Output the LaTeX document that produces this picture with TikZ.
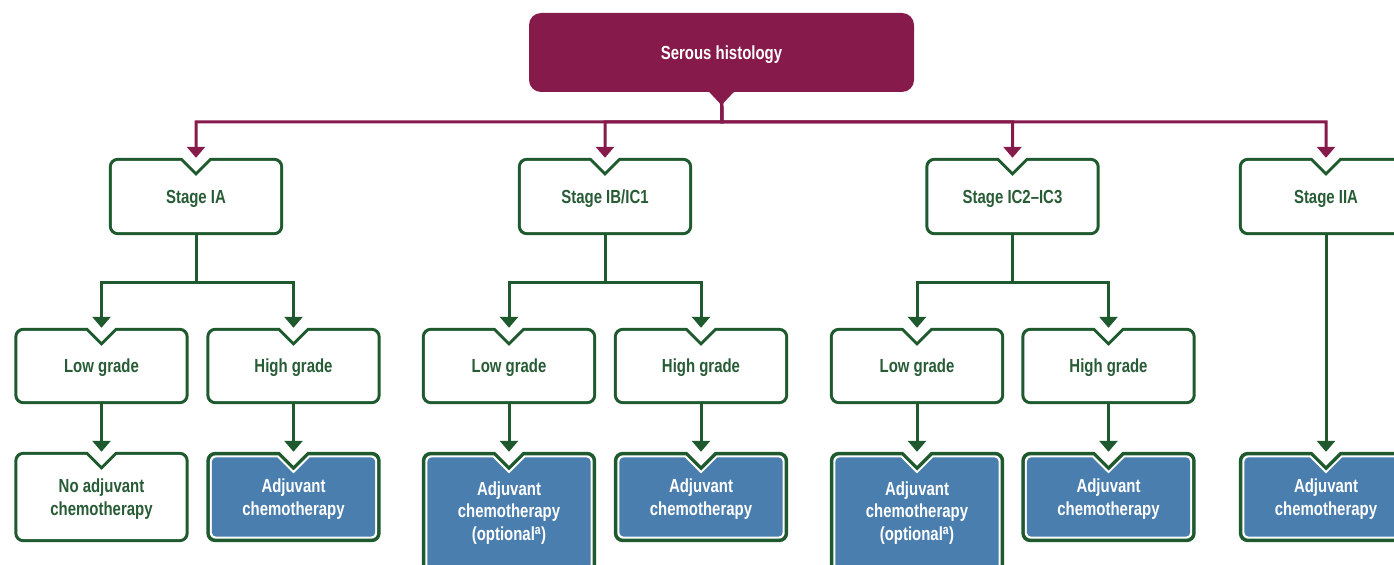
\documentclass[tikz,border=0pt]{standalone}
\usepackage{fontspec}
\setmainfont{Liberation Sans}[FakeStretch=0.79]
\usetikzlibrary{calc,arrows.meta,backgrounds}
\definecolor{grn}{HTML}{1E5A2E}
\definecolor{mar}{HTML}{861A4A}
\definecolor{blu}{HTML}{4A7EAE}
\definecolor{tgrn}{HTML}{285C36}
\newcommand\nshape[4]{%
  \fill[#4] ($(#1.west)+(#2,0)$) [rounded corners=#3] -- ($(#1.north west)+(#2,#2)$) [sharp corners] -- ($(#1.north)+({-14-0.41*#2},#2)$) -- ($(#1.north)+(0,{14+1.41*#2})$) -- ($(#1.north)+({14+0.41*#2},#2)$) [rounded corners=#3] -- ($(#1.north east)+(-#2,#2)$) -- ($(#1.south east)+(-#2,-#2)$) -- ($(#1.south west)+(#2,-#2)$) -- cycle;}
\newcommand\wbox[1]{\nshape{#1}{0}{9bp}{grn}\nshape{#1}{3}{6.5bp}{white}}
\newcommand\bbox[1]{\nshape{#1}{0}{9bp}{grn}\nshape{#1}{3.5}{6bp}{white}\nshape{#1}{5.5}{4.5bp}{blu}}
\tikzset{
  lbl/.style={rectangle, inner sep=0pt, minimum width=174bp, align=center, text depth=-3bp, font=\fontsize{19}{22.5}\selectfont\bfseries},
  wb/.style={lbl, text=tgrn},
  bb/.style={lbl, text=white},
  two/.style={text depth=-7bp},
  three/.style={text depth=4bp},
  garrow/.style={draw=grn, line width=3bp, -{Triangle[width=18bp,length=11bp]}},
  marrow/.style={draw=mar, line width=3bp, -{Triangle[width=18bp,length=11bp]}},
}
\begin{document}
\begin{tikzpicture}[x=1bp,y=-1bp]
\useasboundingbox (0,0) rectangle (1394,565);
\node[lbl, fill=mar, text=white, rounded corners=12bp, minimum width=385bp, minimum height=79bp] (top) at (721.5,52.5) {Serous histology};
\fill[mar] ($(top.south)+(-13,-1)$) -- ($(top.south)+(13,-1)$) -- ($(top.south)+(0,13)$) -- cycle;
% stages
\node[wb, minimum height=77bp] (s1) at (196,196.5) {Stage IA};
\node[wb, minimum height=77bp] (s2) at (605,196.5) {Stage IB/IC1};
\node[wb, minimum height=77bp] (s3) at (1012.5,196.5) {Stage IC2–IC3};
\node[wb, minimum height=77bp] (s4) at (1326,196.5) {Stage IIA};
% grades
\node[wb, minimum height=76bp] (g1a) at (101.5,366) {Low grade};
\node[wb, minimum height=76bp] (g1b) at (293.5,366) {High grade};
\node[wb, minimum height=76bp] (g2a) at (509,366) {Low grade};
\node[wb, minimum height=76bp] (g2b) at (701,366) {High grade};
\node[wb, minimum height=76bp] (g3a) at (917,366) {Low grade};
\node[wb, minimum height=76bp] (g3b) at (1108.5,366) {High grade};
% results
\node[wb, two, minimum height=90bp] (r1a) at (101.5,497) {No adjuvant\\chemotherapy};
\node[bb, two, minimum height=90bp] (r1b) at (293.5,497) {Adjuvant\\chemotherapy};
\node[bb, three, minimum height=122bp] (r2a) at (509,513) {Adjuvant\\chemotherapy\\(optional\textsuperscript{a})};
\node[bb, two, minimum height=90bp] (r2b) at (701,497) {Adjuvant\\chemotherapy};
\node[bb, three, minimum height=122bp] (r3a) at (917,513) {Adjuvant\\chemotherapy\\(optional\textsuperscript{a})};
\node[bb, two, minimum height=90bp] (r3b) at (1108.5,497) {Adjuvant\\chemotherapy};
\node[bb, two, minimum height=90bp] (r4) at (1326,497) {Adjuvant\\chemotherapy};
\begin{pgfonlayer}{background}
\fill[white] (0,0) rectangle (1394,565);
\wbox{s1}\wbox{s2}\wbox{s3}\wbox{s4}
\wbox{g1a}\wbox{g1b}\wbox{g2a}\wbox{g2b}\wbox{g3a}\wbox{g3b}
\wbox{r1a}\bbox{r1b}\bbox{r2a}\bbox{r2b}\bbox{r3a}\bbox{r3b}\bbox{r4}
\end{pgfonlayer}
% connectors
\coordinate (bus) at (722,122);
\draw[marrow] (top.south) -- (bus) -| (s1.north);
\draw[marrow] (top.south) -- (bus) -| (s2.north);
\draw[marrow] (top.south) -- (bus) -| (s3.north);
\draw[marrow] (top.south) -- (bus) -| (s4.north);
\draw[garrow] (s1.south) -- ++(0,47) -| (g1a.north);
\draw[garrow] (s1.south) -- ++(0,47) -| (g1b.north);
\draw[garrow] (s2.south) -- ++(0,47) -| (g2a.north);
\draw[garrow] (s2.south) -- ++(0,47) -| (g2b.north);
\draw[garrow] (s3.south) -- ++(0,47) -| (g3a.north);
\draw[garrow] (s3.south) -- ++(0,47) -| (g3b.north);
\draw[garrow] (g1a.south) -- (r1a.north);
\draw[garrow] (g1b.south) -- (r1b.north);
\draw[garrow] (g2a.south) -- (r2a.north);
\draw[garrow] (g2b.south) -- (r2b.north);
\draw[garrow] (g3a.south) -- (r3a.north);
\draw[garrow] (g3b.south) -- (r3b.north);
\draw[garrow] (s4.south) -- (r4.north);
\end{tikzpicture}
\end{document}
